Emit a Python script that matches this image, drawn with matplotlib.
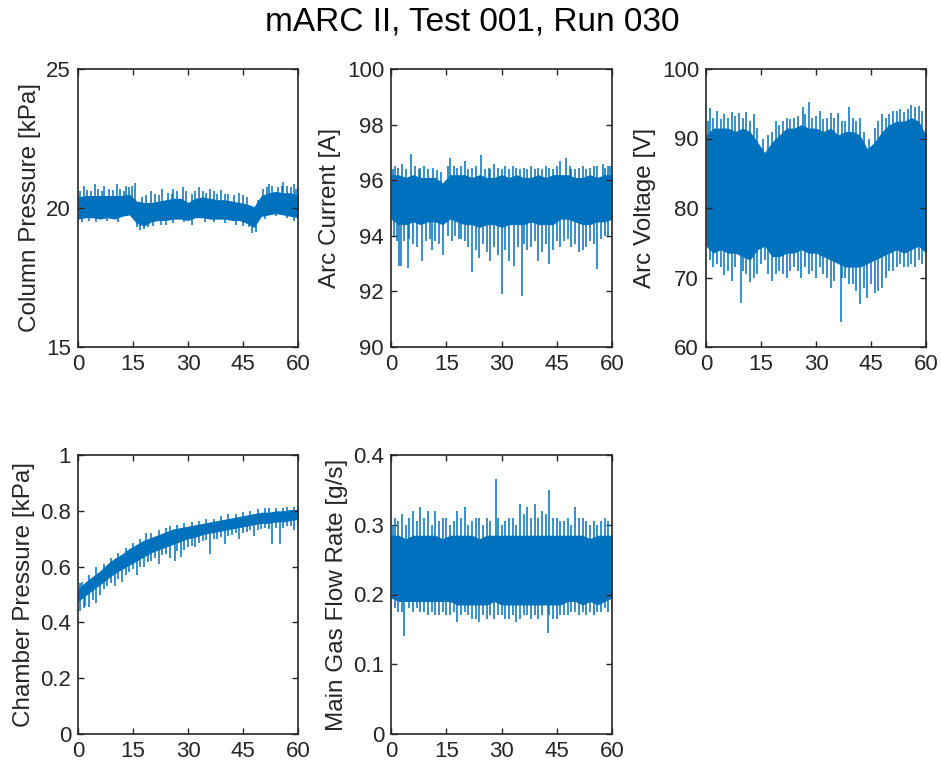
#!/usr/bin/env python3
"""
mARC II run summary: five sensor traces against time, drawn as the dense
noise band (upper / lower envelope) plus the spikes that stick out of it.
"""

import matplotlib
matplotlib.use("Agg")
import matplotlib.pyplot as plt
import numpy as np

plt.rcParams["font.family"] = ["Liberation Sans", "DejaVu Sans"]

LINE_COLOR = "#0072BD"
TEXT_COLOR = "#262626"

TITLE = "mARC II, Test 001, Run 030"

# envelope sample times [s]
T = [0, 2, 4, 6, 8, 10, 12, 14, 16, 18, 20, 22, 24, 26, 28, 30,
     32, 34, 36, 38, 40, 42, 44, 46, 48, 50, 52, 54, 56, 58, 60]

# --- Column pressure [kPa]
col_hi = [20.4, 20.45, 20.45, 20.45, 20.45, 20.45, 20.45, 20.5, 20.25, 20.2, 20.2,
          20.25, 20.3, 20.35, 20.35, 20.2, 20.35, 20.4, 20.35, 20.3, 20.3, 20.25,
          20.2, 20.15, 20.05, 20.45, 20.55, 20.6, 20.55, 20.55, 20.45]
col_lo = [19.6, 19.65, 19.65, 19.6, 19.65, 19.6, 19.7, 19.75, 19.45, 19.35, 19.5,
          19.55, 19.55, 19.6, 19.6, 19.55, 19.65, 19.65, 19.6, 19.6, 19.6, 19.55,
          19.55, 19.45, 19.3, 19.7, 19.75, 19.8, 19.75, 19.7, 19.65]
col_up = [(1.5, 20.8), (4.5, 20.85), (7, 20.8), (10.5, 20.85), (13, 20.8), (15.5, 20.9),
          (20, 20.6), (23, 20.7), (26, 20.7), (28.5, 20.75), (33, 20.75), (36, 20.7),
          (39, 20.65), (44, 20.55), (52, 20.85), (56, 20.95), (59, 20.85),
          (0.5, 20.6), (2.5, 20.65), (3.5, 20.6), (5.5, 20.7), (6.5, 20.6), (8.5, 20.7),
          (9.5, 20.65), (11.5, 20.7), (12.5, 20.6), (14, 20.75), (14.8, 20.8),
          (17.5, 20.4), (18.5, 20.45), (21, 20.5), (22, 20.45), (24.5, 20.55),
          (25.5, 20.5), (27, 20.6), (29.5, 20.6), (31, 20.5), (32, 20.6), (34, 20.6),
          (35, 20.55), (37, 20.6), (38, 20.5), (40, 20.5), (41, 20.5), (42.5, 20.45),
          (45, 20.45), (46, 20.4), (49, 20.3), (50.5, 20.7), (51.5, 20.75), (53, 20.8),
          (54.5, 20.75), (55.5, 20.8), (57, 20.8), (58, 20.75), (59.5, 20.7)]
col_dn = [(17, 19.2), (19, 19.3), (24, 19.4), (47.5, 19.1),
          (1, 19.5), (3, 19.55), (5, 19.5), (8, 19.55), (11, 19.5), (16, 19.3),
          (18, 19.25), (20.5, 19.35), (22.5, 19.4), (26, 19.45), (29, 19.5),
          (31, 19.4), (34.5, 19.5), (37, 19.5), (40, 19.45), (43, 19.4), (45, 19.35),
          (46.5, 19.3), (48.5, 19.15), (51, 19.6), (54, 19.7), (57, 19.65), (59, 19.55)]

# --- Arc current [A]
cur_hi = [96.2, 96.2, 96.1, 96.2, 96.1, 96.1, 96.1, 95.9, 96.2, 96.2, 96.2,
          96.1, 96.2, 96.1, 96.1, 96.2, 96.1, 96.2, 96.1, 96.1, 96.2, 96.1,
          96.2, 96.2, 96.2, 96.1, 96.1, 96.2, 96.1, 96.2, 96.2]
cur_lo = [94.6, 94.4, 94.4, 94.5, 94.4, 94.5, 94.5, 94.4, 94.6, 94.5, 94.4,
          94.4, 94.3, 94.4, 94.4, 94.3, 94.4, 94.4, 94.4, 94.5, 94.4, 94.4,
          94.4, 94.6, 94.6, 94.5, 94.4, 94.4, 94.5, 94.5, 94.6]
cur_up = [(1, 96.5), (3, 96.6), (5.5, 96.95), (9, 96.5), (16, 96.8), (20, 96.7),
          (24.5, 96.9), (28, 96.6), (33, 96.5), (38, 96.5), (42, 96.5), (46, 96.7),
          (47.5, 96.8), (52, 96.5), (55, 96.5), (57.5, 96.6), (59.5, 96.5),
          (0.5, 96.4), (2, 96.45), (4, 96.4), (6.5, 96.5), (7.5, 96.4), (8, 96.45),
          (10, 96.4), (11.5, 96.45), (12.5, 96.35), (13.5, 96.3), (15.5, 96.5),
          (17, 96.5), (18, 96.45), (19, 96.5), (21, 96.4), (22, 96.45), (23, 96.5),
          (25.5, 96.4), (26.5, 96.45), (27, 96.4), (29, 96.45), (30, 96.4), (31, 96.5),
          (32, 96.4), (34, 96.45), (35, 96.4), (36, 96.45), (37, 96.4), (39, 96.4),
          (40, 96.45), (41, 96.4), (43, 96.45), (44, 96.4), (45, 96.5), (48.5, 96.5),
          (49, 96.4), (50, 96.4), (51, 96.45), (53, 96.4), (54, 96.45), (56, 96.5),
          (58, 96.45), (59, 96.5)]
cur_dn = [(1.5, 93.8), (2.2, 92.9), (2.8, 92.9), (4.5, 92.85), (8.5, 93.1), (11, 93.5),
          (14, 93.3), (19, 93.9), (22, 92.7), (24, 93.2), (27, 93.1), (29, 93.3),
          (30, 91.9), (32, 93.1), (33.5, 92.9), (35.5, 91.85), (37, 93.5), (40, 93.1),
          (43, 93.0), (47, 93.8), (50, 93.7), (52, 93.5), (56, 92.8), (58, 94.0),
          (0.8, 94.0), (3.5, 93.8), (5, 93.9), (6, 93.7), (7, 93.6), (9.5, 93.8),
          (10.5, 93.9), (12, 93.8), (13, 93.7), (15.5, 94.0), (16.5, 93.8), (17.5, 94.0),
          (18.5, 93.9), (20, 93.8), (21, 93.6), (23, 93.5), (25, 93.7), (26, 93.4),
          (28, 93.6), (31, 93.5), (34.5, 93.6), (36, 93.7), (38, 93.6), (39, 93.8),
          (41, 93.4), (42, 93.7), (44, 93.5), (45, 93.8), (46, 93.6), (48, 93.9),
          (49, 93.6), (51, 93.4), (53, 93.6), (54, 93.8), (55, 93.7), (57, 93.9),
          (59, 94.0)]

# --- Arc voltage [V]
vol_hi = [90.5, 91.5, 91.5, 91.5, 91, 91.5, 91, 89.5, 88, 89.5, 90.5, 91.5, 91.5,
          92, 91.5, 91.5, 91, 91.5, 90.5, 91, 91, 90.5, 88.5, 89.5, 91, 92, 92.5,
          92.5, 93, 92.5, 90.5]
vol_lo = [74.5, 73.5, 74, 73.5, 73.5, 73, 72.5, 74, 74.5, 73, 73, 73.5, 73.5, 74,
          73.5, 73.5, 73, 72.5, 72, 71.5, 71.5, 71.5, 72, 72.5, 73, 73.5, 74, 73.5,
          74, 74.5, 73.5]
vol_up = [(1, 94.4), (3, 94), (5, 93.5), (7, 93.8), (9, 93.7), (11, 93.8), (13, 93.5),
          (19, 92.5), (22, 93), (25, 93.2), (26.5, 94.5), (28, 95.3), (31, 94),
          (34, 93.6), (36, 93.7), (39, 94.5), (42, 93), (48, 93.5), (51, 94),
          (53, 94.3), (56, 94.8), (58, 94.7), (59, 94),
          (0.5, 92.5), (2, 93), (4, 92.8), (6, 93), (8, 93.2), (10, 93), (12, 92.5),
          (14, 91.5), (15.5, 90), (17, 90.5), (18, 91), (20, 92), (21, 92.5),
          (23, 92.8), (24, 93), (27, 93.5), (29, 93), (30, 93.2), (32, 92.8), (33, 93),
          (35, 93), (37, 92.5), (38, 92.5), (40, 93), (41, 92.5), (43, 91),
          (44.5, 90), (46, 91.5), (47, 92.5), (49, 93), (50, 93.5), (52, 94),
          (54, 93.8), (55, 94.2), (57, 94.5), (60, 91.5)]
vol_dn = [(2, 71.5), (5, 70.3), (7, 69.5), (8, 71.5), (9.5, 66.3), (12, 69.3),
          (14, 70.5), (18, 69.5), (22, 70), (26, 70), (30, 70), (34, 68.5),
          (36.8, 63.6), (38, 70), (40, 69), (42, 66.2), (44, 67), (46, 67.8),
          (48, 68.5), (51, 71), (55, 71.5), (59, 72),
          (1, 72.5), (3, 72), (4, 71.5), (6, 71), (10, 71), (11, 70.5), (13, 70),
          (15, 72), (16, 72.5), (17, 70.5), (19, 70.5), (20, 71), (21, 70.5),
          (23, 71), (24, 71.5), (25, 71), (27, 71.5), (28, 70.5), (29, 71),
          (31, 71.5), (32, 70.5), (33, 70), (35, 69.5), (37, 70), (39, 69), (41, 68),
          (43, 68.5), (45, 69), (47, 68), (49, 70), (50, 71), (52, 71.5), (53, 72),
          (54, 71.5), (56, 72), (57, 71.5), (58, 72.5)]

# --- Chamber pressure [kPa]
chm_hi = [0.52, 0.545, 0.565, 0.585, 0.61, 0.63, 0.645, 0.665, 0.68, 0.695, 0.705,
          0.715, 0.725, 0.735, 0.74, 0.745, 0.75, 0.755, 0.76, 0.765, 0.77, 0.775,
          0.78, 0.785, 0.79, 0.795, 0.795, 0.80, 0.80, 0.805, 0.805]
chm_lo = [0.475, 0.495, 0.515, 0.535, 0.555, 0.575, 0.59, 0.605, 0.62, 0.635, 0.65,
          0.66, 0.67, 0.68, 0.69, 0.70, 0.705, 0.715, 0.72, 0.725, 0.73, 0.735,
          0.74, 0.745, 0.75, 0.755, 0.755, 0.76, 0.76, 0.765, 0.77]
chm_up = [(0.5, 0.54), (5, 0.60), (18.5, 0.72), (25, 0.745), (41, 0.79), (52, 0.81),
          (57, 0.815),
          (1, 0.545), (3, 0.57), (7, 0.61), (9, 0.63), (11, 0.65), (13, 0.665),
          (15, 0.685), (17, 0.70), (20, 0.72), (22, 0.73), (24, 0.74), (27, 0.75),
          (29, 0.755), (31, 0.76), (33, 0.765), (35, 0.77), (37, 0.77), (39, 0.78),
          (43, 0.79), (45, 0.795), (47, 0.80), (49, 0.805), (51, 0.81), (54, 0.81),
          (56, 0.81), (59, 0.815)]
chm_dn = [(0.5, 0.44), (1.5, 0.45), (3, 0.455), (5, 0.47), (7, 0.52), (10, 0.53),
          (12, 0.545), (16, 0.57), (18, 0.60), (22, 0.61), (25, 0.63), (26.5, 0.62),
          (28, 0.635), (32, 0.67), (36, 0.645), (40, 0.68), (44, 0.70), (48, 0.71),
          (53, 0.68), (55, 0.68), (59, 0.73),
          (2, 0.46), (4, 0.48), (6, 0.50), (8, 0.53), (9, 0.54), (11, 0.555),
          (13, 0.57), (14, 0.58), (15, 0.59), (17, 0.60), (19, 0.615), (20, 0.62),
          (21, 0.63), (23, 0.64), (24, 0.645), (27, 0.655), (29, 0.66), (30, 0.67),
          (31, 0.675), (33, 0.685), (34, 0.69), (35, 0.695), (37, 0.70), (38, 0.70),
          (39, 0.705), (41, 0.71), (42, 0.715), (43, 0.72), (45, 0.72), (46, 0.725),
          (47, 0.73), (49, 0.73), (50, 0.735), (51, 0.74), (52, 0.735), (54, 0.74),
          (56, 0.74), (57, 0.745), (58, 0.745), (60, 0.75)]

# --- Main gas flow rate [g/s]
gas_hi = [0.285, 0.285, 0.28, 0.285, 0.285, 0.285, 0.285, 0.28, 0.285, 0.285,
          0.285, 0.285, 0.28, 0.285, 0.285, 0.285, 0.285, 0.285, 0.285, 0.285,
          0.285, 0.285, 0.285, 0.285, 0.285, 0.285, 0.285, 0.28, 0.285, 0.285, 0.285]
gas_lo = [0.195, 0.19, 0.19, 0.19, 0.19, 0.19, 0.19, 0.19, 0.19, 0.185, 0.185,
          0.185, 0.185, 0.185, 0.19, 0.185, 0.185, 0.185, 0.185, 0.185, 0.185,
          0.185, 0.185, 0.185, 0.19, 0.19, 0.185, 0.19, 0.185, 0.19, 0.195]
gas_up = [(1, 0.31), (3, 0.315), (6, 0.32), (8, 0.325), (10, 0.32), (12, 0.32),
          (15, 0.31), (18, 0.32), (20, 0.325), (22, 0.305), (24, 0.31), (26, 0.31),
          (28.5, 0.365), (30, 0.30), (32, 0.31), (35, 0.33), (37, 0.325), (39, 0.33),
          (41, 0.32), (43, 0.35), (45, 0.31), (47, 0.305), (50, 0.325), (52, 0.31),
          (55, 0.305), (58, 0.31),
          (0.5, 0.30), (2, 0.305), (4, 0.30), (5, 0.31), (7, 0.305), (9, 0.31),
          (11, 0.30), (13, 0.305), (14, 0.31), (16, 0.30), (17, 0.305), (19, 0.31),
          (21, 0.30), (23, 0.31), (25, 0.30), (27, 0.305), (29, 0.31), (31, 0.305),
          (33, 0.31), (34, 0.30), (36, 0.315), (38, 0.31), (40, 0.31), (42, 0.315),
          (44, 0.31), (46, 0.305), (48, 0.31), (49, 0.30), (51, 0.31), (53, 0.305),
          (54, 0.30), (56, 0.30), (57, 0.305), (59, 0.305)]
gas_dn = [(2, 0.175), (3.5, 0.14), (8, 0.175), (12, 0.17), (15, 0.17), (18, 0.16),
          (22, 0.165), (24, 0.16), (26, 0.165), (29, 0.17), (32, 0.165), (34, 0.16),
          (37, 0.17), (40, 0.165), (42.5, 0.145), (44, 0.165), (47, 0.17),
          (50, 0.175), (53, 0.17), (56, 0.175), (59, 0.175),
          (1, 0.18), (3, 0.175), (5, 0.18), (6, 0.175), (7, 0.18), (9, 0.175),
          (10, 0.17), (11, 0.175), (13, 0.17), (14, 0.175), (16, 0.17), (17, 0.175),
          (19, 0.17), (20, 0.175), (21, 0.17), (23, 0.165), (25, 0.17), (27, 0.17),
          (28, 0.165), (30, 0.17), (31, 0.165), (33, 0.17), (35, 0.165), (36, 0.17),
          (38, 0.165), (39, 0.17), (41, 0.17), (43, 0.17), (45, 0.165), (46, 0.17),
          (48, 0.17), (49, 0.175), (51, 0.17), (52, 0.175), (54, 0.175), (55, 0.17),
          (57, 0.175), (58, 0.18), (60, 0.18)]

PANELS = [
    # (label, ylim, yticks, hi, lo, up spikes, down spikes, tick labels)
    ("Column Pressure [kPa]", (15, 25), [15, 20, 25],
     col_hi, col_lo, col_up, col_dn, None),
    ("Arc Current [A]", (90, 100), [90, 92, 94, 96, 98, 100],
     cur_hi, cur_lo, cur_up, cur_dn, None),
    ("Arc Voltage [V]", (60, 100), [60, 70, 80, 90, 100],
     vol_hi, vol_lo, vol_up, vol_dn, None),
    ("Chamber Pressure [kPa]", (0, 1), [0, 0.2, 0.4, 0.6, 0.8, 1],
     chm_hi, chm_lo, chm_up, chm_dn, ["0", "0.2", "0.4", "0.6", "0.8", "1"]),
    ("Main Gas Flow Rate [g/s]", (0, 0.4), [0, 0.1, 0.2, 0.3, 0.4],
     gas_hi, gas_lo, gas_up, gas_dn, ["0", "0.1", "0.2", "0.3", "0.4"]),
]

# axes rectangles in figure fractions (left, bottom, width, height)
W, H = 941, 768
RECTS = [
    (78 / W, 1 - 347 / H, 220 / W, 278 / H),
    (391 / W, 1 - 347 / H, 221 / W, 278 / H),
    (706 / W, 1 - 347 / H, 220 / W, 278 / H),
    (78 / W, 1 - 734 / H, 220 / W, 279 / H),
    (391 / W, 1 - 734 / H, 221 / W, 279 / H),
]


def draw_panel(ax, label, ylim, yticks, hi, lo, up, dn, ticklabels):
    t = np.array(T, dtype=float)
    hi = np.array(hi)
    lo = np.array(lo)
    ax.fill_between(t, lo, hi, color=LINE_COLOR, linewidth=0)

    # spikes leave the band from its edge
    up_t, up_v = np.array(up).T
    dn_t, dn_v = np.array(dn).T
    ax.vlines(up_t, np.interp(up_t, t, hi) - 0.01 * np.ptp(ylim), up_v,
              color=LINE_COLOR, linewidth=1.1)
    ax.vlines(dn_t, dn_v, np.interp(dn_t, t, lo) + 0.01 * np.ptp(ylim),
              color=LINE_COLOR, linewidth=1.1)

    ax.set_xlim(0, 60)
    ax.set_ylim(*ylim)
    ax.set_xticks([0, 15, 30, 45, 60])
    ax.set_yticks(yticks)
    if ticklabels is not None:
        ax.set_yticklabels(ticklabels)
    ax.set_ylabel(label, fontsize=17.5, color=TEXT_COLOR, labelpad=4)
    ax.tick_params(direction="in", top=True, right=True, length=4, width=1,
                   labelsize=16, labelcolor=TEXT_COLOR, color=TEXT_COLOR, pad=5)
    for sp in ax.spines.values():
        sp.set_color(TEXT_COLOR)
        sp.set_linewidth(1.2)


def main():
    fig = plt.figure(figsize=(W / 100, H / 100), dpi=100)
    for rect, panel in zip(RECTS, PANELS):
        ax = fig.add_axes(rect)
        draw_panel(ax, *panel)
    fig.text(472 / W, 1 - 22 / H, TITLE, ha="center", va="center",
             fontsize=24, color="black")
    fig.savefig("out.png", dpi=100)


if __name__ == "__main__":
    main()
